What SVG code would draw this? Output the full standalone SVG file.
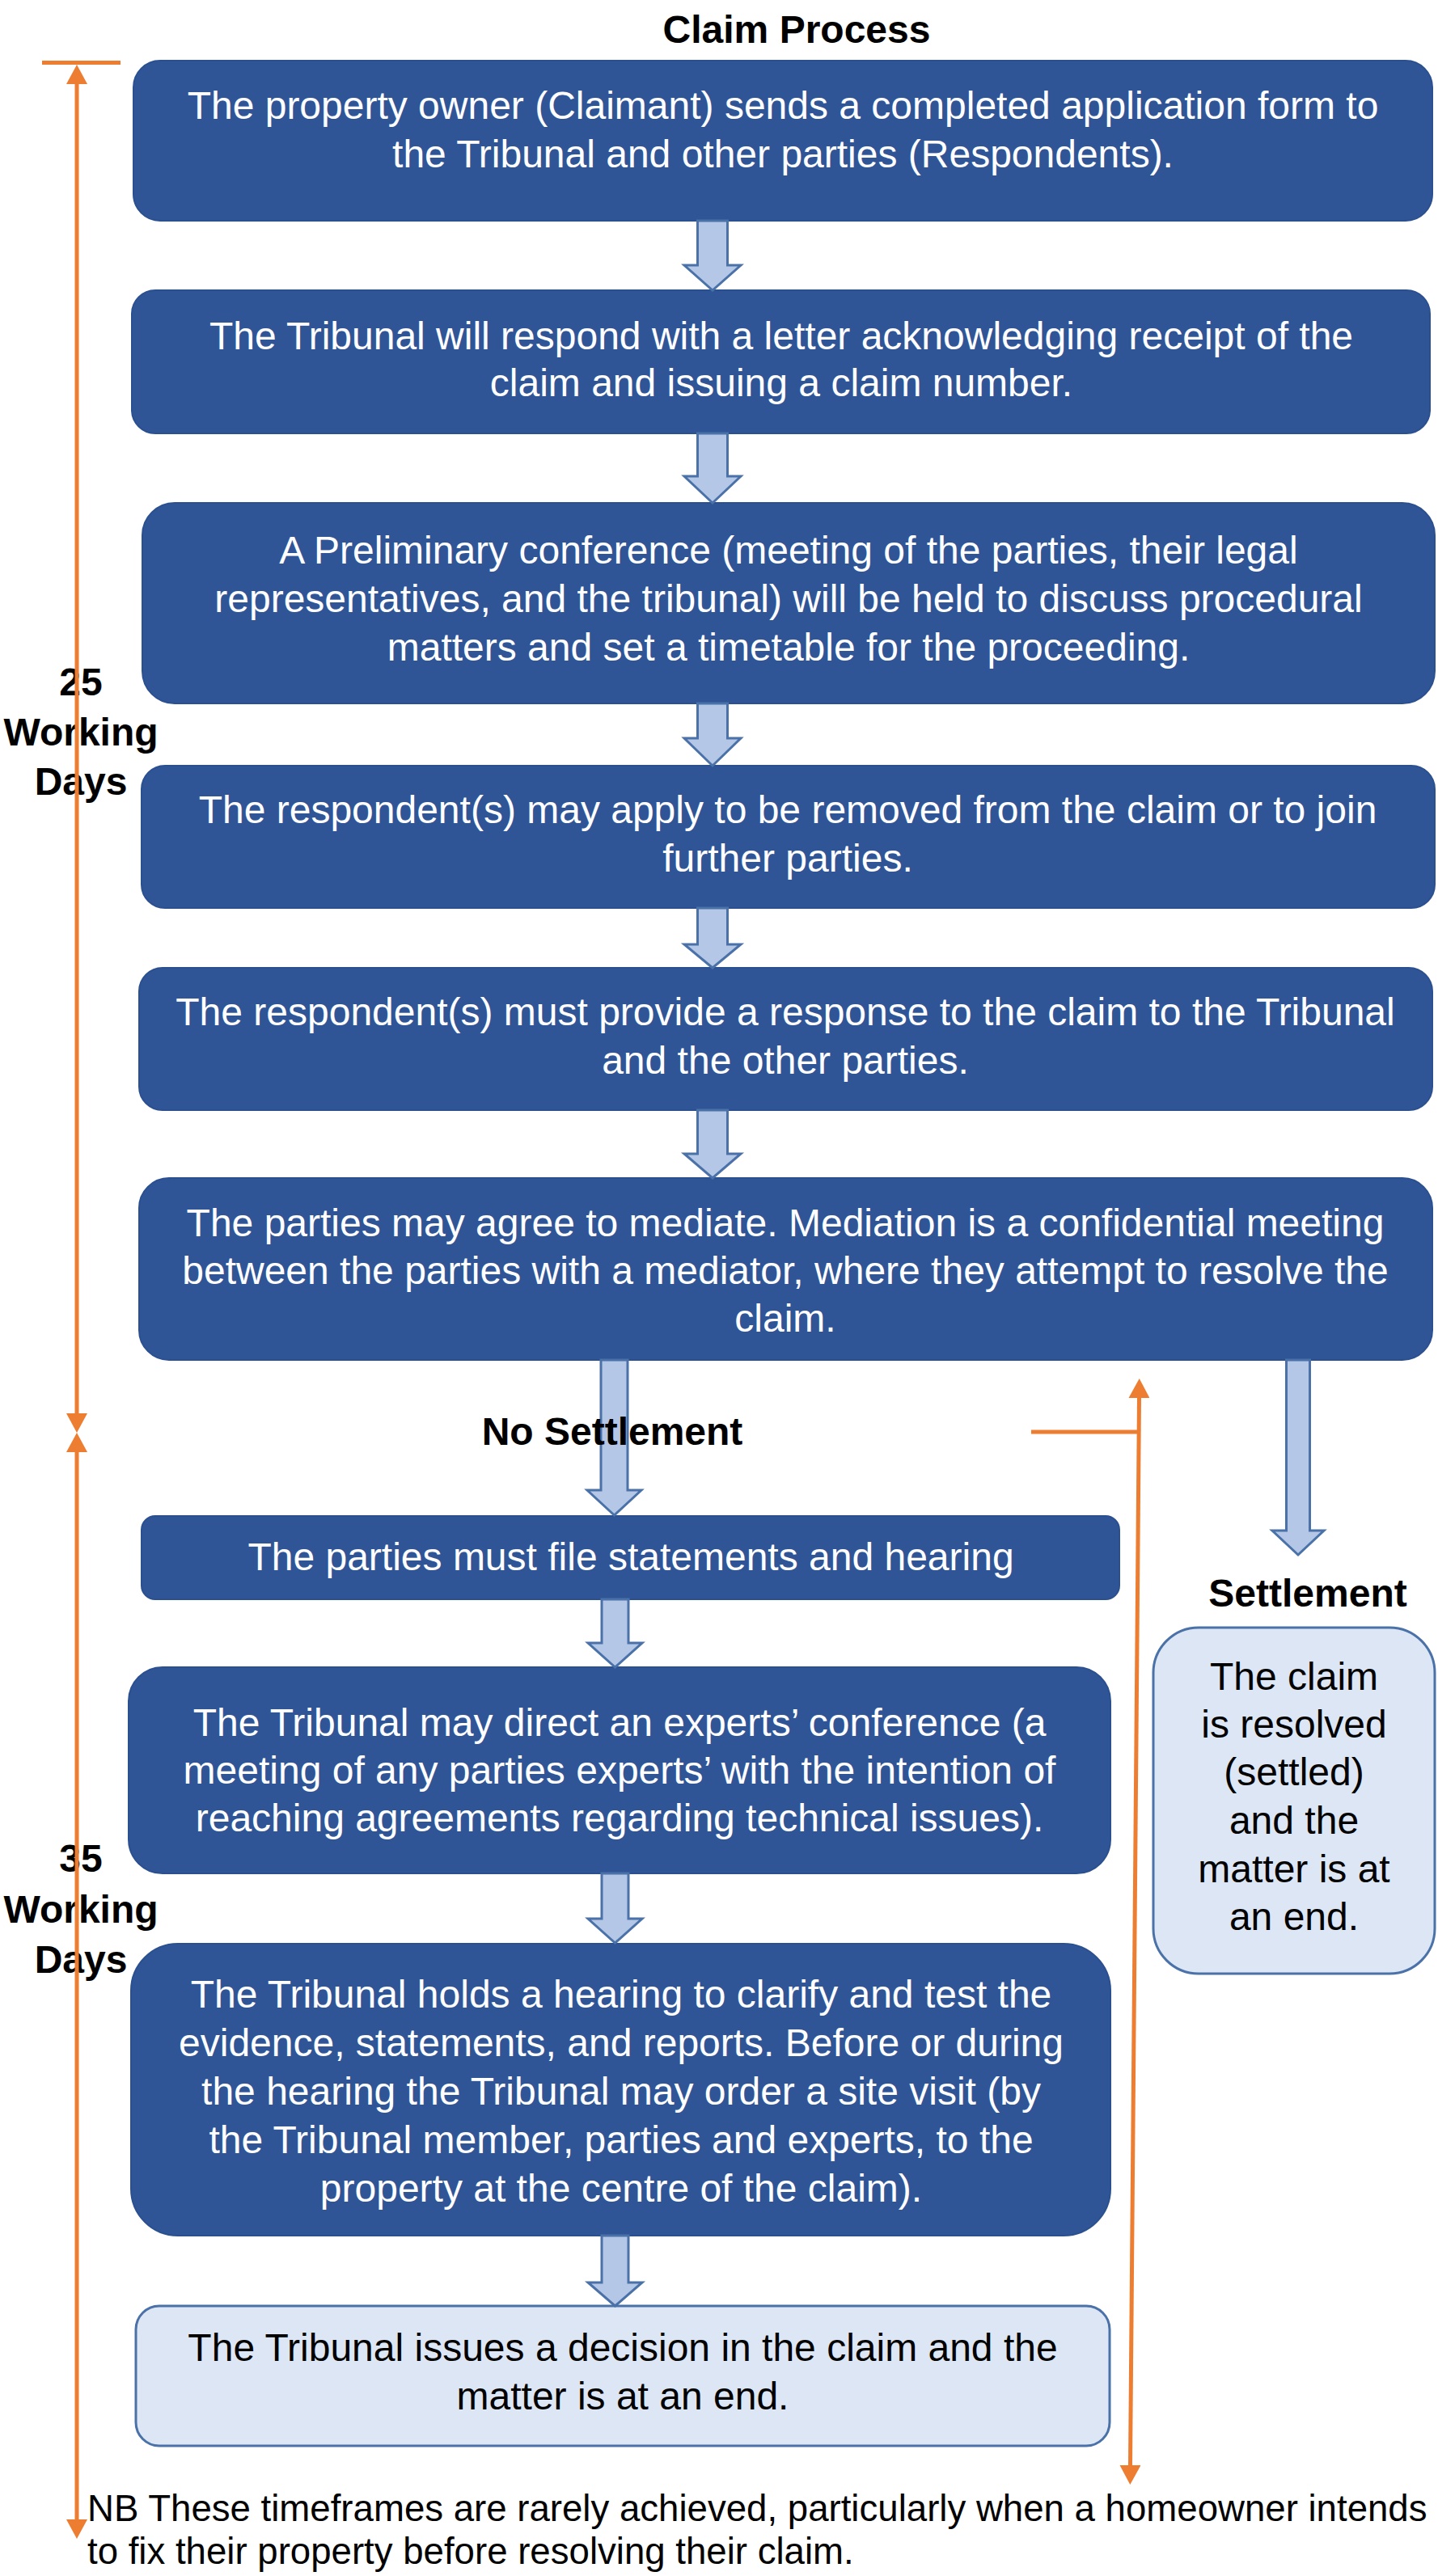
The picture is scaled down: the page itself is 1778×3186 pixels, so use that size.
<svg xmlns="http://www.w3.org/2000/svg" width="1778" height="3186" viewBox="0 0 1778 3186">
<style>
text{font-family:"Liberation Sans",Arial,Helvetica,sans-serif;}
.dk{fill:#2F5597;stroke:#2B5090;stroke-width:2;}
.lt{fill:#DCE6F4;stroke:#4A72A8;stroke-width:3;}
.wt{fill:#FFFFFF;font-size:48px;text-anchor:middle;}
.bt{fill:#000000;font-size:48px;text-anchor:middle;}
.lbl{fill:#000000;font-size:48px;font-weight:bold;text-anchor:middle;}
.nb{fill:#000000;font-size:45.6px;}
.ba{fill:#B4C7E7;stroke:#4A72A8;stroke-width:3;stroke-linejoin:miter;}
.ol{stroke:#ED7D31;stroke-width:5;fill:none;}
</style>
<defs>
<marker id="oh" viewBox="0 0 24 26" refX="0" refY="13" markerWidth="24" markerHeight="26" markerUnits="userSpaceOnUse" orient="auto-start-reverse">
<path d="M0,0 L24,13 L0,26 Z" fill="#ED7D31"/>
</marker>
</defs>
<rect width="1778" height="3186" fill="#FFFFFF"/>

<text class="lbl" x="985" y="53">Claim Process</text>

<g id="n1">
<rect class="dk" x="165" y="75" width="1606" height="198" rx="33"/>
<text class="wt" x="968" y="147">The property owner (Claimant) sends a completed application form to</text>
<text class="wt" x="968" y="207">the Tribunal and other parties (Respondents).</text>
</g>
<g id="n2">
<rect class="dk" x="163" y="359" width="1605" height="177" rx="29"/>
<text class="wt" x="966" y="432">The Tribunal will respond with a letter acknowledging receipt of the</text>
<text class="wt" x="966" y="490">claim and issuing a claim number.</text>
</g>
<g id="n3">
<rect class="dk" x="176" y="622" width="1598" height="248" rx="40"/>
<text class="wt" x="975" y="697">A Preliminary conference (meeting of the parties, their legal</text>
<text class="wt" x="975" y="757">representatives, and the tribunal) will be held to discuss procedural</text>
<text class="wt" x="975" y="817">matters and set a timetable for the proceeding.</text>
</g>
<g id="n4">
<rect class="dk" x="175" y="947" width="1599" height="176" rx="29"/>
<text class="wt" x="974" y="1018">The respondent(s) may apply to be removed from the claim or to join</text>
<text class="wt" x="974" y="1078">further parties.</text>
</g>
<g id="n5">
<rect class="dk" x="172" y="1197" width="1599" height="176" rx="29"/>
<text class="wt" x="971" y="1268">The respondent(s) must provide a response to the claim to the Tribunal</text>
<text class="wt" x="971" y="1328">and the other parties.</text>
</g>
<g id="n6">
<rect class="dk" x="172" y="1457" width="1599" height="225" rx="37"/>
<text class="wt" x="971" y="1529">The parties may agree to mediate. Mediation is a confidential meeting</text>
<text class="wt" x="971" y="1588">between the parties with a mediator, where they attempt to resolve the</text>
<text class="wt" x="971" y="1647">claim.</text>
</g>
<g id="n7">
<rect class="dk" x="175" y="1875" width="1209" height="103" rx="17"/>
<text class="wt" x="780" y="1942">The parties must file statements and hearing</text>
</g>
<g id="n8">
<rect class="dk" x="159" y="2062" width="1214" height="255" rx="42"/>
<text class="wt" x="766" y="2147">The Tribunal may direct an experts’ conference (a</text>
<text class="wt" x="766" y="2206">meeting of any parties experts’ with the intention of</text>
<text class="wt" x="766" y="2265">reaching agreements regarding technical issues).</text>
</g>
<g id="n9">
<rect class="dk" x="162" y="2404" width="1211" height="361" rx="58"/>
<text class="wt" x="768" y="2483">The Tribunal holds a hearing to clarify and test the</text>
<text class="wt" x="768" y="2543">evidence, statements, and reports. Before or during</text>
<text class="wt" x="768" y="2603">the hearing the Tribunal may order a site visit (by</text>
<text class="wt" x="768" y="2663">the Tribunal member, parties and experts, to the</text>
<text class="wt" x="768" y="2723">property at the centre of the claim).</text>
</g>
<g id="n10">
<rect class="lt" x="168" y="2852" width="1204" height="173" rx="29"/>
<text class="bt" x="770" y="2920">The Tribunal issues a decision in the claim and the</text>
<text class="bt" x="770" y="2980">matter is at an end.</text>
</g>
<g id="n11">
<rect class="lt" x="1426" y="2013" width="348" height="428" rx="56"/>
<text class="bt" x="1600" y="2090">The claim</text>
<text class="bt" x="1600" y="2149">is resolved</text>
<text class="bt" x="1600" y="2208">(settled)</text>
<text class="bt" x="1600" y="2268">and the</text>
<text class="bt" x="1600" y="2328">matter is at</text>
<text class="bt" x="1600" y="2387">an end.</text>
</g>

<g id="connectors">
<path class="ba" d="M862.5,273 L899.5,273 L899.5,328 L916,328 L881,359 L846,328 L862.5,328 Z"/>
<path class="ba" d="M862.5,536 L899.5,536 L899.5,589 L916,589 L881,622 L846,589 L862.5,589 Z"/>
<path class="ba" d="M862.5,870 L899.5,870 L899.5,913 L916,913 L881,947 L846,913 L862.5,913 Z"/>
<path class="ba" d="M862.5,1123 L899.5,1123 L899.5,1168 L916,1168 L881,1197 L846,1168 L862.5,1168 Z"/>
<path class="ba" d="M862.5,1373 L899.5,1373 L899.5,1427 L916,1427 L881,1457 L846,1427 L862.5,1427 Z"/>
<path class="ba" d="M743,1682 L776,1682 L776,1843 L793,1843 L759.5,1874 L726,1843 L743,1843 Z"/>
<path class="ba" d="M744,1978 L777,1978 L777,2032 L794,2032 L760.5,2062 L727,2032 L744,2032 Z"/>
<path class="ba" d="M744,2317 L777,2317 L777,2373 L794,2373 L760.5,2403 L727,2373 L744,2373 Z"/>
<path class="ba" d="M744,2765 L777,2765 L777,2823 L794,2823 L760.5,2852 L727,2823 L744,2823 Z"/>
<path class="ba" d="M1590.5,1682 L1619.5,1682 L1619.5,1893 L1637,1893 L1605,1923 L1573,1893 L1590.5,1893 Z"/>
</g>

<g id="labels">
<text class="lbl" x="100" y="860">25</text>
<text class="lbl" x="100" y="922">Working</text>
<text class="lbl" x="100" y="983">Days</text>
<text class="lbl" x="100" y="2315">35</text>
<text class="lbl" x="100" y="2378">Working</text>
<text class="lbl" x="100" y="2440">Days</text>
<text class="lbl" x="757" y="1787">No Settlement</text>
<text class="lbl" x="1617" y="1987">Settlement</text>
<text class="nb" x="108" y="3118">NB These timeframes are rarely achieved, particularly when a homeowner intends</text>
<text class="nb" x="108" y="3171">to fix their property before resolving their claim.</text>
</g>

<g id="timeline">
<line class="ol" x1="52" y1="77.5" x2="149" y2="77.5"/>
<line class="ol" x1="95" y1="104" x2="95" y2="1748" marker-start="url(#oh)" marker-end="url(#oh)"/>
<line class="ol" x1="95" y1="1796" x2="95" y2="3116" marker-start="url(#oh)" marker-end="url(#oh)"/>
<line class="ol" x1="1275" y1="1771" x2="1408" y2="1771"/>
<line class="ol" x1="1408.5" y1="1729" x2="1397.5" y2="3049" marker-start="url(#oh)" marker-end="url(#oh)"/>
</g>
</svg>
